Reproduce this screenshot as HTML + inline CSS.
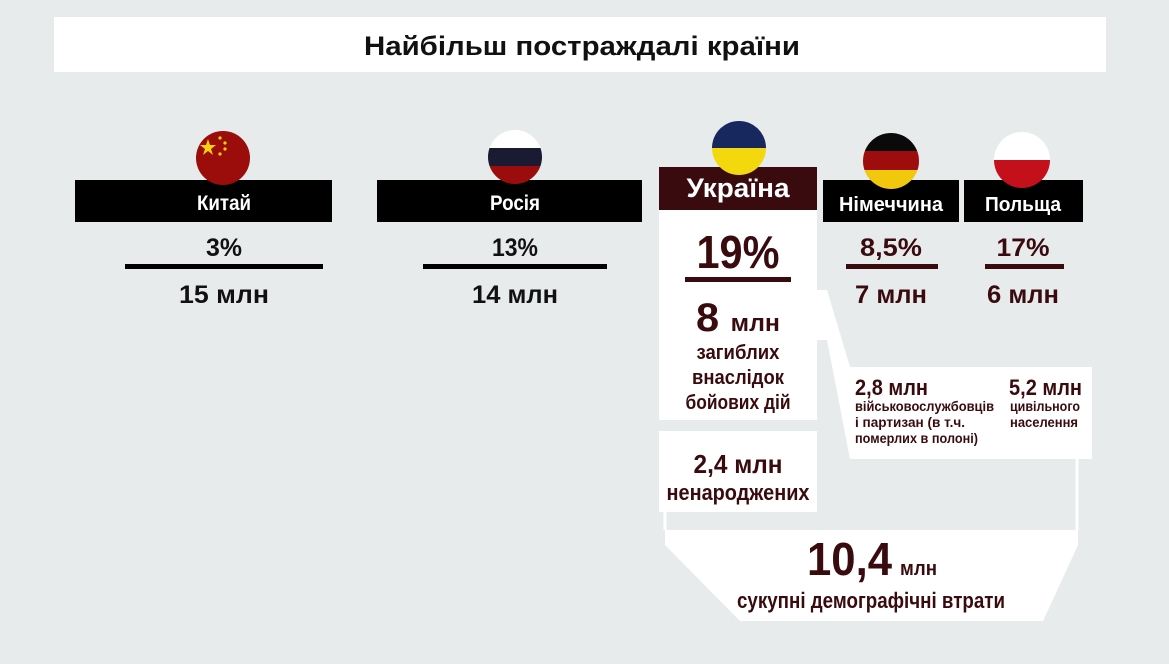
<!DOCTYPE html>
<html><head><meta charset="utf-8"><style>
html,body{margin:0;padding:0;background:#e8ebec;}
svg{display:block;}
text{font-family:"Liberation Sans Narrow","Liberation Sans","DejaVu Sans Condensed",sans-serif;font-weight:bold;}
.t{font-family:"Liberation Sans","DejaVu Sans",sans-serif;}
</style></head><body>
<svg width="1169" height="664" viewBox="0 0 1169 664" xmlns="http://www.w3.org/2000/svg">
<rect width="1169" height="664" fill="#e8ebec"/>
<rect x="54" y="17" width="1052" height="55" fill="#fff"/>
<text class="t" x="582" y="55" font-size="27" text-anchor="middle" fill="#111" textLength="436" lengthAdjust="spacingAndGlyphs">Найбільш постраждалі країни</text>

<!-- bracket shapes -->
<path d="M665,510 L665,530 M1077,459 L1077,530" stroke="#fff" stroke-width="3" fill="none"/>
<polygon points="665,530 1078,530 1078,545 1043,621 740,621 665,545" fill="#fff"/>
<polygon points="817,290 827,290 850,367 850,459 827,340 817,340" fill="#fff"/>
<rect x="850" y="367" width="242" height="92" fill="#fff"/>
<rect x="659" y="210" width="158" height="210" fill="#fff"/>
<rect x="659" y="431" width="158" height="81" fill="#fff"/>

<!-- bars -->
<rect x="75" y="180" width="257" height="42" fill="#000"/>
<rect x="377" y="180" width="265" height="42" fill="#000"/>
<rect x="659" y="167" width="158" height="43" fill="#3a0b0e"/>
<rect x="823" y="180" width="136" height="42" fill="#000"/>
<rect x="964" y="180" width="119" height="42" fill="#000"/>

<!-- flags -->
<defs>
<clipPath id="c2"><circle cx="515" cy="157" r="27"/></clipPath>
<clipPath id="c3"><circle cx="739" cy="148" r="27"/></clipPath>
<clipPath id="c4"><circle cx="891" cy="161" r="28"/></clipPath>
<clipPath id="c5"><circle cx="1022" cy="160" r="28"/></clipPath>
</defs>
<circle cx="223" cy="158" r="27" fill="#9b0d0a"/>
<polygon points="208,139 210,145 216,145 211,149 213,155 208,151 203,155 205,149 200,145 206,145" fill="#f5d20f"/>
<circle cx="220" cy="138" r="1.6" fill="#f5d20f"/><circle cx="225" cy="143" r="1.6" fill="#f5d20f"/><circle cx="225" cy="149" r="1.6" fill="#f5d20f"/><circle cx="220" cy="154" r="1.6" fill="#f5d20f"/>
<g clip-path="url(#c2)"><rect x="486" y="128" width="60" height="20" fill="#fff"/><rect x="486" y="148" width="60" height="18" fill="#1a1a33"/><rect x="486" y="166" width="60" height="20" fill="#9b0d0d"/></g>
<g clip-path="url(#c3)"><rect x="710" y="120" width="60" height="28" fill="#17285e"/><rect x="710" y="148" width="60" height="28" fill="#f3d80e"/></g>
<g clip-path="url(#c4)"><rect x="860" y="132" width="62" height="19" fill="#0a0a0a"/><rect x="860" y="151" width="62" height="19" fill="#9e0d0d"/><rect x="860" y="170" width="62" height="20" fill="#f2c80c"/></g>
<g clip-path="url(#c5)"><rect x="992" y="131" width="62" height="29" fill="#fff"/><rect x="992" y="160" width="62" height="30" fill="#c4101a"/></g>
<rect x="75" y="180" width="257" height="0" fill="#000"/>

<!-- bar labels -->
<text x="224" y="210" font-size="21" fill="#fff" text-anchor="middle" textLength="54" lengthAdjust="spacingAndGlyphs">Китай</text>
<text x="515" y="210" font-size="21" fill="#fff" text-anchor="middle" textLength="50" lengthAdjust="spacingAndGlyphs">Росія</text>
<text x="738" y="197" font-size="27" fill="#fff" text-anchor="middle" textLength="103" lengthAdjust="spacingAndGlyphs">Україна</text>
<text x="891" y="211" font-size="20" fill="#fff" text-anchor="middle" textLength="104" lengthAdjust="spacingAndGlyphs">Німеччина</text>
<text x="1023" y="211" font-size="20" fill="#fff" text-anchor="middle" textLength="76" lengthAdjust="spacingAndGlyphs">Польща</text>

<!-- China / Russia -->
<text x="224" y="256" font-size="25" fill="#111" text-anchor="middle" textLength="36" lengthAdjust="spacingAndGlyphs">3%</text>
<rect x="125" y="264" width="198" height="5" fill="#000"/>
<text x="224" y="303" font-size="25" fill="#111" text-anchor="middle" textLength="90" lengthAdjust="spacingAndGlyphs">15 млн</text>
<text x="515" y="256" font-size="25" fill="#111" text-anchor="middle" textLength="46" lengthAdjust="spacingAndGlyphs">13%</text>
<rect x="423" y="264" width="184" height="5" fill="#000"/>
<text x="515" y="303" font-size="25" fill="#111" text-anchor="middle" textLength="86" lengthAdjust="spacingAndGlyphs">14 млн</text>

<!-- Germany / Poland -->
<g fill="#3a0b0e">
<text x="891" y="256" font-size="25" text-anchor="middle" textLength="62" lengthAdjust="spacingAndGlyphs">8,5%</text>
<rect x="846" y="264" width="92" height="5"/>
<text x="891" y="303" font-size="25" text-anchor="middle" textLength="72" lengthAdjust="spacingAndGlyphs">7 млн</text>
<text x="1023" y="256" font-size="25" text-anchor="middle" textLength="53" lengthAdjust="spacingAndGlyphs">17%</text>
<rect x="985" y="264" width="79" height="5"/>
<text x="1023" y="303" font-size="25" text-anchor="middle" textLength="72" lengthAdjust="spacingAndGlyphs">6 млн</text>

<!-- Ukraine -->
<text x="738" y="268" font-size="46" text-anchor="middle" textLength="83" lengthAdjust="spacingAndGlyphs">19%</text>
<rect x="685" y="277" width="106" height="5"/>
<text x="738" y="331" font-size="40" text-anchor="middle" textLength="84" lengthAdjust="spacingAndGlyphs"><tspan font-size="40">8 </tspan><tspan font-size="24">млн</tspan></text>
<text x="738" y="359" font-size="20" text-anchor="middle" textLength="83" lengthAdjust="spacingAndGlyphs">загиблих</text>
<text x="738" y="384" font-size="20" text-anchor="middle" textLength="92" lengthAdjust="spacingAndGlyphs">внаслідок</text>
<text x="738" y="409" font-size="20" text-anchor="middle" textLength="105" lengthAdjust="spacingAndGlyphs">бойових дій</text>
<text x="738" y="473" font-size="26" text-anchor="middle" textLength="89" lengthAdjust="spacingAndGlyphs">2,4 млн</text>
<text x="738" y="500" font-size="22" text-anchor="middle" textLength="143" lengthAdjust="spacingAndGlyphs">ненароджених</text>

<text x="855" y="395" font-size="22" textLength="73" lengthAdjust="spacingAndGlyphs">2,8 млн</text>
<text x="855" y="411" font-size="14" textLength="139" lengthAdjust="spacingAndGlyphs">військовослужбовців</text>
<text x="855" y="427" font-size="14" textLength="110" lengthAdjust="spacingAndGlyphs">і партизан (в т.ч.</text>
<text x="855" y="443" font-size="14" textLength="123" lengthAdjust="spacingAndGlyphs">померлих в полоні)</text>
<text x="1082" y="395" font-size="22" text-anchor="end" textLength="73" lengthAdjust="spacingAndGlyphs">5,2 млн</text>
<text x="1080" y="411" font-size="14" text-anchor="end" textLength="70" lengthAdjust="spacingAndGlyphs">цивільного</text>
<text x="1078" y="427" font-size="14" text-anchor="end" textLength="68" lengthAdjust="spacingAndGlyphs">населення</text>

<text x="807" y="575" font-size="46" textLength="85" lengthAdjust="spacingAndGlyphs">10,4</text>
<text x="900" y="575" font-size="20" textLength="37" lengthAdjust="spacingAndGlyphs">млн</text>
<text x="871" y="608" font-size="22" text-anchor="middle" textLength="268" lengthAdjust="spacingAndGlyphs">сукупні демографічні втрати</text>
</g>
</svg>
</body></html>
